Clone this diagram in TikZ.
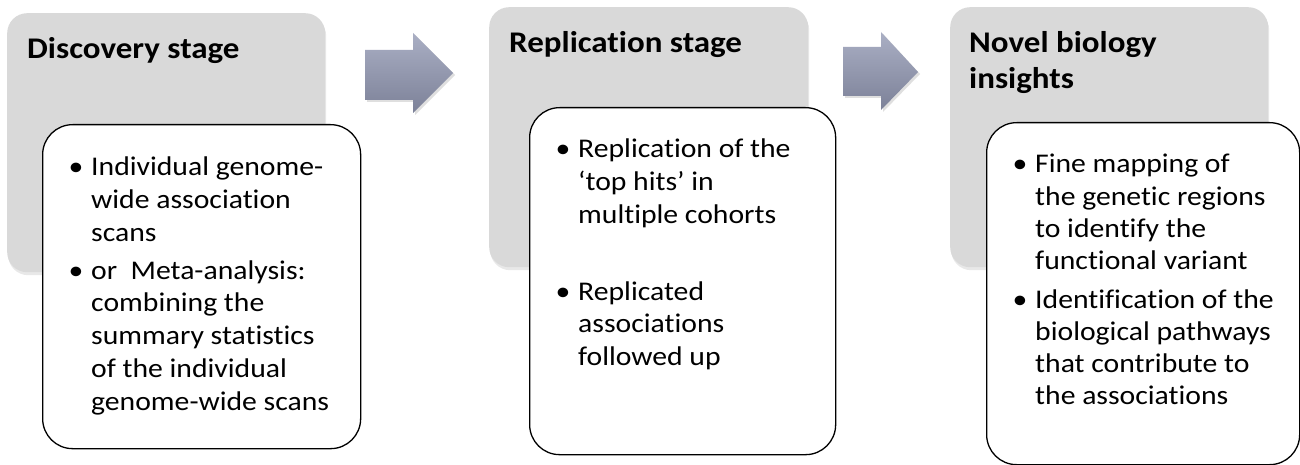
\documentclass[tikz,border=0pt]{standalone}
\usepackage{fontspec}
\setmainfont{Carlito}[FakeStretch=1.1, Ligatures=CommonOff]
\usetikzlibrary{shadows}
\definecolor{stagegrey}{HTML}{D9D9D9}
\definecolor{arrowtop}{HTML}{AAAFC4}
\definecolor{arrowbot}{HTML}{7C8198}
\begin{document}
\begin{tikzpicture}[x=1pt,y=-1pt,
  stagebox/.style={fill=stagegrey, draw=none, rounded corners=20pt, inner sep=0pt, anchor=north west,
    drop shadow={opacity=0.18, shadow xshift=1pt, shadow yshift=-3pt}},
  detailbox/.style={fill=white, draw=black, line width=1.3pt, rounded corners=30pt, inner sep=0pt, anchor=north west},
  stagetitle/.style={anchor=base west, inner sep=0pt, font=\bfseries\fontsize{30}{36}\selectfont},
  bodyline/.style={anchor=base west, inner sep=0pt, font=\fontsize{27}{33}\selectfont},
  bulletmark/.style={anchor=base, inner sep=0pt, font=\fontsize{27}{33}\selectfont},
  blockarrow/.style={top color=arrowtop, bottom color=arrowbot, draw=none,
    drop shadow={opacity=0.25, shadow xshift=2pt, shadow yshift=-2pt}}]
\useasboundingbox (0,0) rectangle (1300,465);
\fill[white] (0,0) rectangle (1300,465);

% stage boxes
\node[stagebox, minimum width=318pt, minimum height=259pt] (g1) at (7,13) {};
\node[stagebox, minimum width=319pt, minimum height=260pt] (g2) at (489,7) {};
\node[stagebox, minimum width=318pt, minimum height=260pt] (g3) at (950,7) {};

% titles
\node[stagetitle] (t1) at (27,59) {Discovery stage};
\node[stagetitle] (t2) at (509,53) {Replication stage};
\node[stagetitle] (t3a) at (969,53) {Novel biology};
\node[stagetitle] (t3b) at (969,89) {insights};

% arrows
\path[blockarrow] (365,50) -- (413,50) -- (413,33) -- (453,73) -- (413,113) -- (413,100) -- (365,100) -- cycle;
\path[blockarrow] (843,47) -- (881,47) -- (881,32) -- (918,72) -- (881,110) -- (881,96) -- (843,96) -- cycle;

% detail boxes
\node[detailbox, minimum width=318pt, minimum height=324pt] (w1) at (42,124) {};
\node[detailbox, minimum width=306pt, minimum height=347pt] (w2) at (529,107) {};
\node[detailbox, minimum width=313pt, minimum height=342pt] (w3) at (986,122) {};

% box 1 text
\node[bulletmark] (b11) at (76,176) {•};
\foreach \t [count=\i] in {Individual genome-, wide association, scans}
  \node[bodyline] (l1a\i) at (91,{176+32.7*(\i-1)}) {\t};
\node[bulletmark] (b12) at (76,279) {•};
\foreach \t [count=\i] in {or\ \ Meta-analysis:, combining the, summary statistics, of the individual, genome-wide scans}
  \node[bodyline] (l1b\i) at (91,{279+32.8*(\i-1)}) {\t};

% box 2 text
\node[bulletmark] (b21) at (563,158) {•};
\foreach \t [count=\i] in {Replication of the, ‘top hits’ in, multiple cohorts}
  \node[bodyline] (l2a\i) at (578,{158+32.5*(\i-1)}) {\t};
\node[bulletmark] (b22) at (563,300) {•};
\foreach \t [count=\i] in {Replicated, associations, followed up}
  \node[bodyline] (l2b\i) at (578,{300+32.5*(\i-1)}) {\t};

% box 3 text
\node[bulletmark] (b31) at (1020,173) {•};
\foreach \t [count=\i] in {Fine mapping of, the genetic regions, to identify the, functional variant}
  \node[bodyline] (l3a\i) at (1035,{173+32*(\i-1)}) {\t};
\node[bulletmark] (b32) at (1020,308) {•};
\foreach \t [count=\i] in {Identification of the, biological pathways, that contribute to, the associations}
  \node[bodyline] (l3b\i) at (1035,{308+32.3*(\i-1)}) {\t};
\end{tikzpicture}
\end{document}
